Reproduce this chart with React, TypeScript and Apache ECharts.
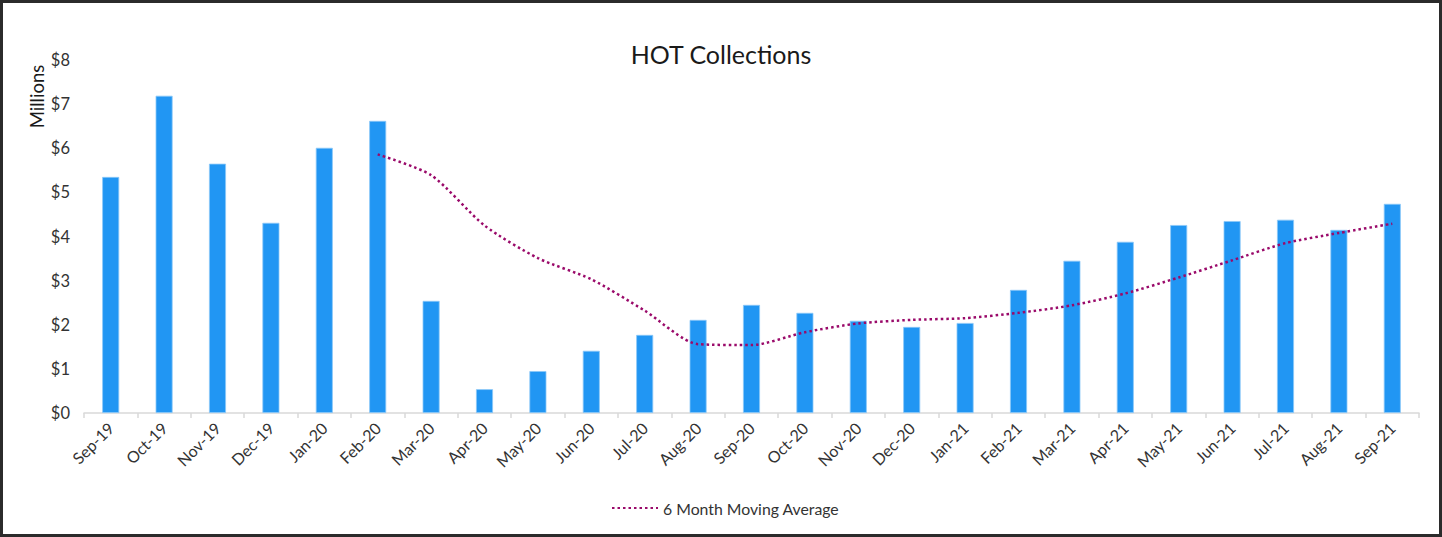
import React, { useEffect, useRef } from "react";
import * as echarts from "echarts";

const categories = [
  "Sep-19", "Oct-19", "Nov-19", "Dec-19", "Jan-20", "Feb-20", "Mar-20", "Apr-20", "May-20",
  "Jun-20", "Jul-20", "Aug-20", "Sep-20", "Oct-20", "Nov-20", "Dec-20", "Jan-21", "Feb-21",
  "Mar-21", "Apr-21", "May-21", "Jun-21", "Jul-21", "Aug-21", "Sep-21",
];

const collections = [
  5.35, 7.19, 5.65, 4.31, 6.01, 6.62, 2.54, 0.54, 0.95, 1.41, 1.77, 2.11, 2.45, 2.27, 2.09,
  1.95, 2.04, 2.79, 3.45, 3.88, 4.26, 4.35, 4.38, 4.15, 4.74,
];

const movingAverage = [
  null, null, null, null, null, 5.86, 5.39, 4.25, 3.51, 3.03, 2.32, 1.56, 1.54, 1.83, 2.03,
  2.11, 2.15, 2.27, 2.44, 2.71, 3.07, 3.46, 3.85, 4.08, 4.29,
];

const yTicks = [0, 1, 2, 3, 4, 5, 6, 7, 8];

const FONT = "Lato";

export default function App() {
  const ref = useRef<HTMLDivElement>(null);

  useEffect(() => {
    document.body.style.margin = "0";
    if (!ref.current) return;
    const chart = echarts.init(ref.current, null, { renderer: "svg" });
    chart.setOption({
      animation: false,
      backgroundColor: "#ffffff",
      textStyle: { fontFamily: FONT },
      title: {
        text: "HOT Collections",
        left: "center",
        top: 36,
        textStyle: { fontFamily: FONT, fontSize: 25, fontWeight: "normal", color: "#1a1a1a" },
      },
      legend: {
        bottom: 16,
        left: 606,
        itemWidth: 46,
        itemHeight: 12,
        itemGap: 4,
        itemStyle: { opacity: 0 },
        textStyle: { fontFamily: FONT, fontSize: 15.8, color: "#333" },
        data: ["6 Month Moving Average"],
      },
      grid: { left: 84, right: 23, top: 60, bottom: 124, containLabel: false },
      xAxis: {
        type: "category",
        data: categories,
        boundaryGap: true,
        axisLine: { show: true, lineStyle: { color: "#d9d9d9", width: 1.5 } },
        axisTick: { show: true, alignWithLabel: false, length: 5, lineStyle: { color: "#d9d9d9", width: 1.5 } },
        axisLabel: {
          rotate: 45,
          interval: 0,
          margin: 12,
          fontFamily: FONT,
          fontSize: 16,
          color: "#333",
        },
      },
      yAxis: {
        type: "value",
        min: yTicks[0],
        max: yTicks[yTicks.length - 1],
        interval: 1,
        splitLine: { show: false },
        axisLine: { show: false },
        axisTick: { show: false },
        axisLabel: {
          margin: 14,
          fontFamily: FONT,
          fontSize: 16.5,
          color: "#333",
          formatter: (v: number) => "$" + v,
        },
      },
      graphic: [
        {
          type: "rect",
          shape: { x: 1.5, y: 1.5, width: 1439, height: 534 },
          style: { fill: "none", stroke: "#2b2b2b", lineWidth: 3 },
          silent: true,
        },
        {
          type: "text",
          x: 27,
          y: 96.5,
          rotation: Math.PI / 2,
          style: {
            text: "Millions",
            fontFamily: FONT,
            fontSize: 18.5,
            fill: "#1a1a1a",
            align: "center",
            verticalAlign: "top",
          },
        },
      ],
      series: [
        {
          name: "HOT Collections",
          type: "bar",
          data: collections,
          barWidth: 17,
          itemStyle: { color: "#2196F3", borderColor: "#8cc8f8", borderWidth: 0.8 },
        },
        {
          name: "6 Month Moving Average",
          type: "line",
          data: movingAverage,
          smooth: 0.25,
          showSymbol: false,
          symbol: "none",
          lineStyle: { color: "#9a0a6a", width: 2.5, type: [2.5, 3], cap: "butt" },
          itemStyle: { color: "#9a0a6a" },
        },
      ],
    });
    return () => chart.dispose();
  }, []);

  return <div ref={ref} style={{ width: 1442, height: 537 }} />;
}
